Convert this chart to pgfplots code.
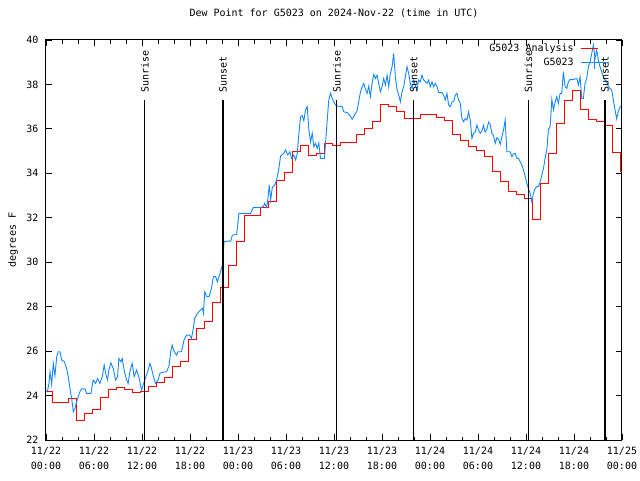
\documentclass[border=0pt]{standalone}
\usepackage{pgfplots}
\pgfplotsset{compat=1.18}
\usepackage{fontspec}
\setmainfont{DejaVu Sans Mono}
\definecolor{obsblue}{RGB}{20,135,255}
\definecolor{anared}{RGB}{255,0,0}
\pgfplotsset{plusline/.style={legend image code/.code={\draw[##1] (0pt,0pt) -- (28pt,0pt); \draw[##1] (14pt,-6pt) -- (14pt,6pt);}}}
\begin{document}
\begin{tikzpicture}
\begin{axis}[
  scale only axis, width=576pt, height=400pt,
  xmin=0, xmax=72, ymin=22, ymax=40,
  axis line style={line width=1pt},
  xtick={0,6,...,72},
  xticklabels={{11/22\\00:00},{11/22\\06:00},{11/22\\12:00},{11/22\\18:00},{11/23\\00:00},{11/23\\06:00},{11/23\\12:00},{11/23\\18:00},{11/24\\00:00},{11/24\\06:00},{11/24\\12:00},{11/24\\18:00},{11/25\\00:00}},
  minor x tick num=2,
  ytick={22,24,...,40},
  tick align=inside,
  major tick length=6pt, minor tick length=3.5pt,
  tick style={black, line width=0.8pt},
  /pgf/number format/assume math mode=true,
  every tick label/.append style={inner sep=0pt, font=\fontsize{10}{14.6}\selectfont},
  xticklabel style={align=center, yshift=-7pt},
  yticklabel style={xshift=-7.5pt},
  title={Dew Point for G5023 on 2024-Nov-22 (time in UTC)},
  title style={at={(rel axis cs:0.5,1)}, anchor=base, yshift=17.5pt, inner sep=0pt, font=\fontsize{10}{12}\selectfont},
  ylabel={degrees F},
  ylabel style={at={(rel axis cs:-0.057,0.5)}, anchor=center, inner sep=0pt, font=\fontsize{10}{12}\selectfont},
  legend plot pos=right,
  legend cell align=right,
  legend style={at={(rel axis cs:1,1)}, anchor=north east, xshift=-12.5pt, yshift=-4pt,
    draw=none, fill=none, inner sep=0pt, row sep=3.5pt,
    font=\fontsize{10}{12}\selectfont,
    nodes={inner sep=0pt, text height=7.3pt, text depth=1.5pt},
    /tikz/every odd column/.append style={column sep=6.7pt}},
]
\addplot[anared, line width=0.9pt, const plot] coordinates {
(0,24.2) (0.75,23.68) (2.75,23.87) (3.75,22.9) (4.75,23.2) (5.75,23.38) (6.75,23.9)
(7.75,24.28) (8.75,24.37) (9.75,24.28) (10.75,24.13) (11.75,24.2) (12.75,24.4)
(13.75,24.58) (14.75,24.8) (15.75,25.33) (16.75,25.55) (17.75,26.53) (18.75,27.03)
(19.75,27.35) (20.75,28.2) (21.75,28.87) (22.75,29.84) (23.75,30.92) (24.75,32.1)
(26.75,32.45) (27.75,32.75) (28.75,33.7) (29.75,34.05) (30.75,34.97) (31.75,35.24)
(32.75,34.8) (33.75,34.9) (34.75,35.35) (35.75,35.27) (36.75,35.4) (38.75,35.77)
(39.75,36.03) (40.75,36.33) (41.75,37.1) (42.75,37.03) (43.75,36.8) (44.75,36.45)
(46.75,36.67) (48.75,36.52) (49.75,36.4) (50.75,35.76) (51.75,35.5) (52.75,35.23)
(53.75,35.05) (54.75,34.78) (55.75,34.1) (56.75,33.62) (57.75,33.17) (58.75,33.07)
(59.75,32.87) (60.75,31.93) (61.75,33.55) (62.75,34.9) (63.75,36.25) (64.75,37.3)
(65.75,37.75) (66.75,36.88) (67.75,36.43) (68.75,36.33) (69.75,36.17) (70.75,34.95)
(71.75,34.07) (72,34.07)
};
\addlegendentry{G5023 Analysis}
\addplot[obsblue, line width=0.9pt, plusline] coordinates {
(0.0,24.15) (0.21,24.25) (0.37,24.55) (0.50,25.07) (0.71,24.5) (0.91,25.45) (1.12,24.9)
(1.34,25.75) (1.53,25.97) (1.75,25.97) (1.96,25.6) (2.28,25.53) (2.58,25.22) (2.78,24.85)
(2.99,24.33) (3.21,23.87) (3.41,23.27) (3.62,23.42) (3.83,23.72) (4.03,23.95) (4.24,24.17)
(4.45,24.3) (4.87,24.3) (5.08,24.1) (5.62,24.1) (5.90,24.7) (6.20,24.55) (6.45,24.77)
(6.74,24.55) (7.03,24.85) (7.27,25.37) (7.45,25.0) (7.70,24.7) (7.86,25.15) (8.11,25.47)
(8.40,25.22) (8.70,24.7) (8.95,24.85) (9.11,25.67) (9.36,25.52) (9.52,25.67) (9.77,25.15)
(10.07,24.7) (10.27,24.55) (10.48,25.07) (10.77,25.45) (11.02,24.85) (11.32,25.15)
(11.60,24.85) (11.94,24.25) (12.14,24.47) (12.35,24.7) (12.77,25.15) (12.98,25.45)
(13.19,25.22) (13.39,24.92) (13.69,24.55) (14.01,24.7) (14.23,25.0) (14.64,25.05)
(15.06,25.07) (15.35,25.3) (15.60,25.97) (15.76,26.27) (16.01,26.0) (16.31,25.82)
(16.51,25.97) (16.93,25.97) (17.26,26.5) (17.56,26.72) (17.97,26.72) (18.18,26.57)
(18.38,26.95) (18.59,27.47) (18.93,27.7) (19.25,27.82) (19.55,27.93) (19.68,27.7)
(19.84,28.67) (20.09,28.45) (20.38,28.45) (20.68,28.82) (20.93,29.35) (21.21,29.35)
(21.42,29.12) (21.75,29.5) (22.05,29.87) (22.25,30.92) (22.67,30.95) (23.08,30.95)
(23.30,31.22) (23.83,31.25) (24.12,32.2) (25.58,32.2) (25.92,32.47) (26.83,32.47)
(27.16,32.5) (27.33,32.65) (27.58,32.47) (27.74,32.87) (27.91,33.47) (28.08,32.8)
(28.29,33.37) (28.58,33.47) (28.83,33.7) (29.11,34.22) (29.32,34.78) (29.74,34.9)
(29.95,35.05) (30.23,34.82) (30.48,34.97) (30.70,34.67) (30.98,34.82) (31.20,34.6)
(31.41,34.9) (31.61,35.8) (31.82,36.55) (32.03,36.6) (32.23,36.37) (32.44,36.85)
(32.66,37.0) (32.86,35.95) (33.07,35.42) (33.28,35.8) (33.48,35.2) (33.69,35.35)
(33.90,35.12) (34.10,35.37) (34.31,34.67) (34.81,34.67) (34.94,35.35) (35.15,36.4)
(35.35,37.3) (35.56,37.6) (35.78,37.37) (35.97,37.22) (36.19,37.07) (36.40,37.03)
(37.02,37.0) (37.22,36.77) (37.65,36.73) (37.97,36.62) (38.27,36.43) (38.56,36.62)
(38.89,36.82) (39.09,37.22) (39.31,37.67) (39.52,37.9) (39.72,38.05) (39.93,37.77)
(40.14,37.6) (40.34,37.92) (40.55,37.45) (40.77,38.07) (40.97,38.45) (41.18,38.27)
(41.39,38.42) (41.59,38.05) (41.80,37.67) (42.01,37.9) (42.21,38.27) (42.43,37.97)
(42.64,38.42) (42.84,37.9) (43.05,38.5) (43.26,38.8) (43.46,39.4) (43.67,38.35)
(43.89,37.75) (44.09,37.52) (44.30,37.22) (44.51,37.67) (44.71,37.9) (44.92,38.35)
(45.13,38.8) (45.33,38.5) (45.54,38.05) (45.76,37.82) (45.96,38.2) (46.17,37.97)
(46.38,37.75) (46.58,38.2) (46.79,38.12) (47.00,38.42) (47.21,38.2) (47.63,38.05)
(47.83,38.2) (48.04,37.9) (48.25,38.12) (48.45,37.9) (48.67,38.05) (48.88,37.9)
(49.08,37.63) (49.50,37.63) (49.70,37.52) (49.91,37.3) (50.12,37.6) (50.33,37.07)
(50.54,37.0) (50.75,37.22) (50.95,37.22) (51.16,37.52) (51.37,37.6) (51.57,37.3)
(51.78,37.15) (51.99,36.47) (52.20,36.32) (52.41,36.47) (52.62,36.4) (52.82,36.77)
(53.03,36.4) (53.24,35.57) (53.44,35.8) (53.66,35.87) (53.87,36.17) (54.07,35.95)
(54.28,35.8) (54.49,35.9) (54.69,36.15) (54.90,35.85) (55.12,36.0) (55.32,36.3)
(55.53,36.2) (55.74,35.8) (55.94,35.7) (56.15,35.35) (56.36,35.6) (56.56,35.55)
(56.78,35.3) (56.99,35.65) (57.19,35.95) (57.40,36.4) (57.61,34.97) (58.02,34.97)
(58.24,34.75) (58.44,34.87) (58.65,34.9) (58.86,34.67) (59.06,34.67) (59.27,34.52)
(59.48,34.37) (59.69,34.15) (59.90,33.85) (60.11,33.55) (60.31,33.32) (60.52,33.1)
(60.73,32.72) (60.93,33.1) (61.14,33.32) (61.35,33.4) (61.56,33.4) (61.77,33.62)
(61.98,33.92) (62.18,34.22) (62.39,34.67) (62.60,35.05) (62.80,35.97) (63.01,36.1)
(63.10,36.55) (63.23,37.33) (63.43,36.85) (63.64,37.22) (63.85,37.45) (64.05,37.15)
(64.26,37.6) (64.47,37.6) (64.67,38.57) (64.89,37.9) (65.10,37.82) (65.30,38.12)
(65.51,38.22) (65.92,38.22) (66.35,38.27) (66.55,37.97) (66.76,38.35) (66.97,37.37)
(67.17,37.37) (67.38,38.05) (67.59,38.27) (67.80,38.8) (68.01,39.02) (68.22,39.4)
(68.42,39.77) (68.63,39.17) (68.84,39.55) (69.04,39.1) (69.25,38.8) (69.46,38.57)
(69.67,38.35) (69.88,38.2) (70.09,38.12) (70.30,37.9) (70.50,37.82) (70.72,37.75)
(70.92,37.3) (71.13,36.85) (71.34,36.45) (71.47,36.7) (71.67,36.92) (71.84,37.03)
};
\addlegendentry{G5023}
\addplot[black, line width=1.2pt, forget plot] coordinates {(12.35,22) (12.35,37.32)};
\addplot[black, line width=1.2pt, forget plot] coordinates {(22.13,22) (22.13,37.32)};
\addplot[black, line width=1.2pt, forget plot] coordinates {(36.35,22) (36.35,37.32)};
\addplot[black, line width=1.2pt, forget plot] coordinates {(45.96,22) (45.96,37.32)};
\addplot[black, line width=1.2pt, forget plot] coordinates {(60.31,22) (60.31,37.32)};
\addplot[black, line width=1.2pt, forget plot] coordinates {(69.88,22) (69.88,37.32)};
\node[rotate=90, anchor=west, inner sep=0pt] at (axis cs:12.35,37.64) {Sunrise};
\node[rotate=90, anchor=west, inner sep=0pt] at (axis cs:22.13,37.64) {Sunset};
\node[rotate=90, anchor=west, inner sep=0pt] at (axis cs:36.35,37.64) {Sunrise};
\node[rotate=90, anchor=west, inner sep=0pt] at (axis cs:45.96,37.64) {Sunset};
\node[rotate=90, anchor=west, inner sep=0pt] at (axis cs:60.31,37.64) {Sunrise};
\node[rotate=90, anchor=west, inner sep=0pt] at (axis cs:69.88,37.64) {Sunset};
\end{axis}
\pgfresetboundingbox
\path[use as bounding box] (-46pt,-40pt) rectangle (594pt,440pt);
\end{tikzpicture}
\end{document}
